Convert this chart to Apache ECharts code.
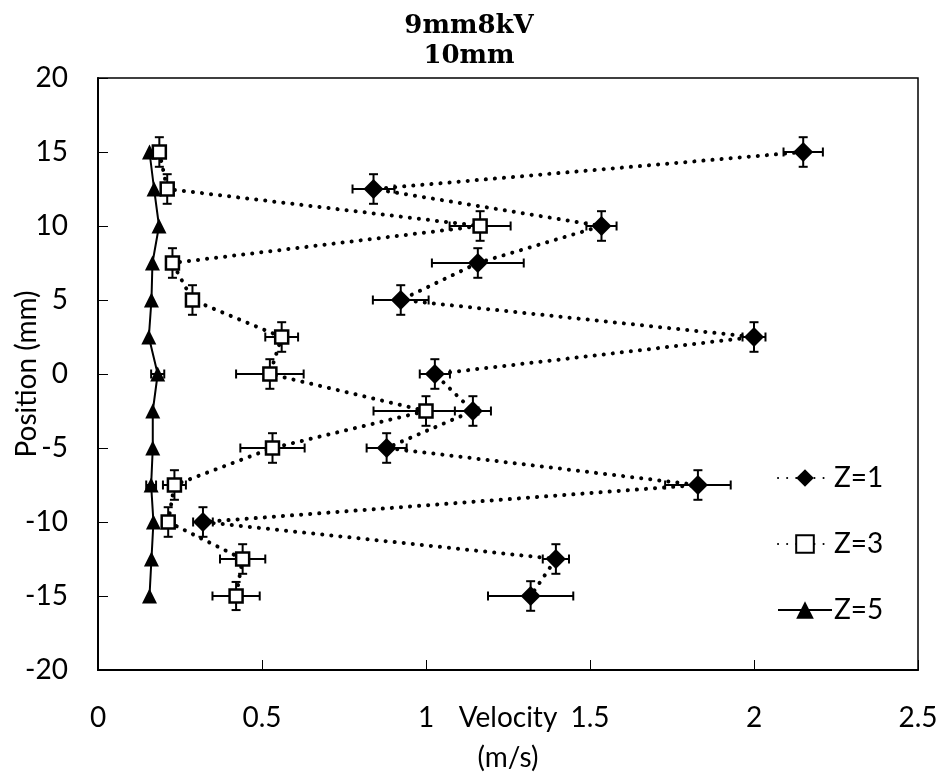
<!DOCTYPE html>
<html>
<head>
<meta charset="utf-8">
<script src="https://cdn.jsdelivr.net/npm/echarts@6/dist/echarts.min.js"></script>
<style>
html,body{margin:0;padding:0;background:#fff;}
#chart{width:938px;height:777px;}
</style>
</head>
<body>
<div id="chart"></div>
<script>
// Data
const positions = [15, 12.5, 10, 7.5, 5, 2.5, 0, -2.5, -5, -7.5, -10, -12.5, -15];
const z1Velocity = [2.15, 0.84, 1.535, 1.158, 0.923, 2.0, 1.027, 1.143, 0.88, 1.829, 0.32, 1.396, 1.319];
const z1ErrX = [0.06, 0.064, 0.046, 0.14, 0.085, 0.035, 0.046, 0.055, 0.061, 0.1, 0.03, 0.04, 0.13];
const z1ErrY = [1, 1, 1, 1, 1, 1, 1, 1, 1, 1, 1, 1, 1];
const z3Velocity = [0.187, 0.211, 1.165, 0.227, 0.288, 0.56, 0.524, 1.0, 0.532, 0.233, 0.214, 0.441, 0.421];
const z3ErrX = [0, 0, 0.093, 0, 0, 0.05, 0.103, 0.16, 0.098, 0.035, 0, 0.069, 0.072];
const z3ErrY = [1, 1, 1, 1, 1, 1, 1, 1, 1, 1, 1, 1, 0.95];
const z5Velocity = [0.157, 0.171, 0.186, 0.166, 0.163, 0.155, 0.182, 0.167, 0.167, 0.162, 0.169, 0.163, 0.157];
const z5ErrX = [0, 0, 0, 0, 0, 0, 0.02, 0, 0, 0.015, 0, 0, 0];
const z5ErrY = [0, 0, 0, 0, 0, 0, 0, 0, 0, 0, 0, 0, 0];
const seriesNames = ['Z=1', 'Z=3', 'Z=5'];
const xTicks = {min: 0, max: 2.5, interval: 0.5};
const yTicks = {min: -20, max: 20, interval: 5};

const FONT = 'Lato';

function pts(vel) { return vel.map((v, i) => [v, positions[i]]); }
function errPts(vel, ex, ey) { return vel.map((v, i) => [v, positions[i], ex[i], ey[i]]); }

function renderErr(params, api) {
  const x = api.value(0), y = api.value(1), ex = api.value(2), ey = api.value(3);
  const cap = 4.5;
  const children = [];
  const st = {stroke: '#000', lineWidth: 2};
  if (ex > 0) {
    const a = api.coord([x - ex, y]), b = api.coord([x + ex, y]);
    children.push({type: 'line', shape: {x1: a[0], y1: a[1], x2: b[0], y2: b[1]}, style: st});
    children.push({type: 'line', shape: {x1: a[0], y1: a[1] - cap, x2: a[0], y2: a[1] + cap}, style: st});
    children.push({type: 'line', shape: {x1: b[0], y1: b[1] - cap, x2: b[0], y2: b[1] + cap}, style: st});
  }
  if (ey > 0) {
    const a = api.coord([x, y - ey]), b = api.coord([x, y + ey]);
    children.push({type: 'line', shape: {x1: a[0], y1: a[1], x2: b[0], y2: b[1]}, style: st});
    children.push({type: 'line', shape: {x1: a[0] - cap, y1: a[1], x2: a[0] + cap, y2: a[1]}, style: st});
    children.push({type: 'line', shape: {x1: b[0] - cap, y1: b[1], x2: b[0] + cap, y2: b[1]}, style: st});
  }
  return {type: 'group', children: children};
}

const dotted = {color: '#000', width: 4, type: [0.1, 9], cap: 'round'};

const chart = echarts.init(document.getElementById('chart'), null, {renderer: 'canvas'});
chart.setOption({
  animation: false,
  backgroundColor: '#fff',
  title: {
    text: '9mm8kV\n10mm',
    left: 'center',
    top: 6,
    textStyle: {fontFamily: 'DejaVu Serif', fontWeight: 'bold', fontSize: 26, lineHeight: 30, color: '#000'}
  },
  grid: {left: 98, right: 20, top: 78, bottom: 107, outerBoundsMode: 'none', containLabel: false, show: true, borderColor: '#000', borderWidth: 1.5, backgroundColor: 'transparent'},
  legend: {
    orient: 'vertical',
    left: 772,
    top: 459,
    itemWidth: 54,
    itemHeight: 22,
    itemGap: 38,
    data: seriesNames,
    textStyle: {fontFamily: FONT, fontSize: 28, color: '#000', padding: [0, 0, 0, -3]}
  },
  xAxis: {
    type: 'value',
    min: xTicks.min, max: xTicks.max, interval: xTicks.interval,
    name: 'Velocity\n(m/s)',
    nameLocation: 'middle',
    nameMoveOverlap: false,
    nameGap: 28,
    nameTextStyle: {fontFamily: FONT, fontSize: 28, lineHeight: 40, color: '#000'},
    axisLine: {show: true, onZero: false, lineStyle: {color: '#000', width: 2}},
    axisTick: {show: true, inside: true, length: 10, lineStyle: {color: '#000', width: 1}},
    axisLabel: {fontFamily: FONT, fontSize: 28, color: '#000', margin: 34},
    splitLine: {show: false}
  },
  yAxis: {
    type: 'value',
    min: yTicks.min, max: yTicks.max, interval: yTicks.interval,
    name: 'Position (mm)',
    nameLocation: 'middle',
    nameMoveOverlap: false,
    nameGap: 57,
    nameTextStyle: {fontFamily: FONT, fontSize: 28, color: '#000'},
    axisLine: {show: true, onZero: false, lineStyle: {color: '#000', width: 2}},
    axisTick: {show: true, inside: true, length: 10, lineStyle: {color: '#000', width: 1}},
    axisLabel: {fontFamily: FONT, fontSize: 28, color: '#000', margin: 30},
    splitLine: {show: false}
  },
  series: [
    {type: 'custom', name: 'errZ5', renderItem: renderErr, data: errPts(z5Velocity, z5ErrX, z5ErrY), z: 1, silent: true, encode: {x: 0, y: 1}},
    {type: 'custom', name: 'errZ3', renderItem: renderErr, data: errPts(z3Velocity, z3ErrX, z3ErrY), z: 1, silent: true, encode: {x: 0, y: 1}},
    {type: 'custom', name: 'errZ1', renderItem: renderErr, data: errPts(z1Velocity, z1ErrX, z1ErrY), z: 1, silent: true, encode: {x: 0, y: 1}},
    {
      type: 'line', name: seriesNames[2], data: pts(z5Velocity), z: 3,
      symbol: 'triangle', symbolSize: 15,
      itemStyle: {color: '#000', borderWidth: 0},
      lineStyle: {color: '#000', width: 2}
    },
    {
      type: 'line', name: seriesNames[1], data: pts(z3Velocity), z: 4,
      symbol: 'rect', symbolSize: 13,
      itemStyle: {color: '#fff', borderColor: '#000', borderWidth: 2.5},
      lineStyle: dotted
    },
    {
      type: 'line', name: seriesNames[0], data: pts(z1Velocity), z: 5,
      symbol: 'diamond', symbolSize: 20,
      itemStyle: {color: '#000', borderWidth: 0},
      lineStyle: dotted
    }
  ]
});
</script>
</body>
</html>
